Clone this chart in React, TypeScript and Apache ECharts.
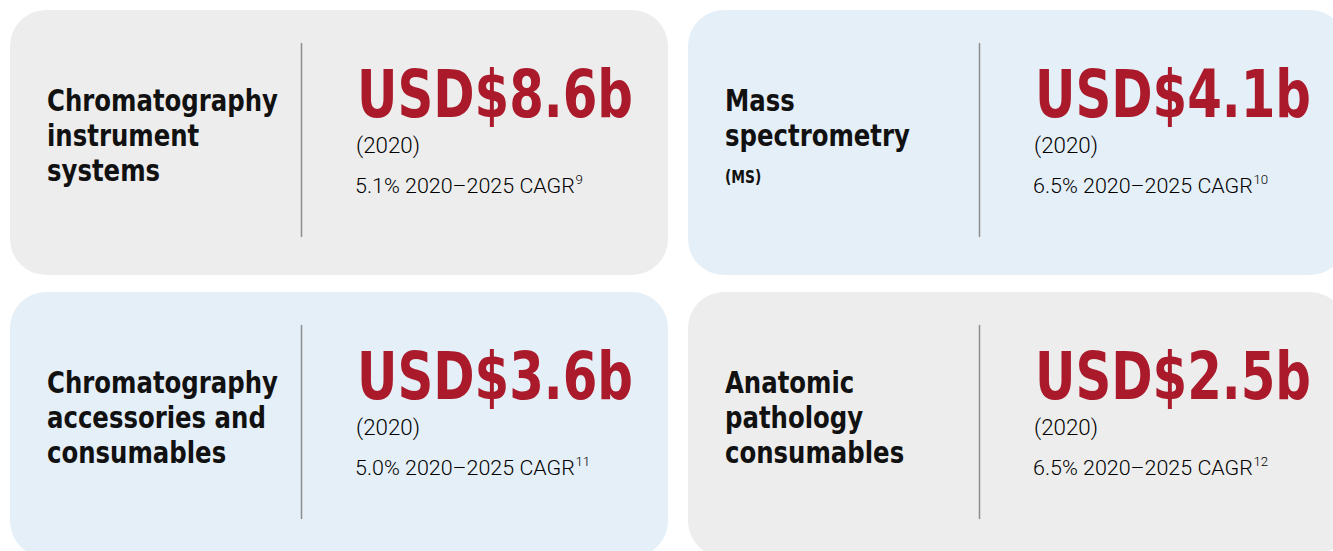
import { useEffect, useRef } from "react";
import * as echarts from "echarts";

// ---- data ----
const titleLines: string[][] = [
  ["Chromatography", "instrument", "systems"],
  ["Mass", "spectrometry"],
  ["Chromatography", "accessories and", "consumables"],
  ["Anatomic", "pathology", "consumables"],
];
const subtitles: string[] = ["", "(MS)", "", ""];
const marketValues: number[] = [8.6, 4.1, 3.6, 2.5];
const currencyPrefix = "USD$";
const unitSuffix = "b";
const baseYear = 2020;
const endYear = 2025;
const cagrValues: number[] = [5.1, 6.5, 5.0, 6.5];
const footnotes: number[] = [9, 10, 11, 12];
const cardColors: string[] = ["#EDEDED", "#E5EFF8", "#E5EFF8", "#EDEDED"];

// ---- layout / styles ----
const W = 1333;
const H = 551;
const colX = [10, 688];
const rowY = [10, 292];
const cardW = 658;
const cardH = 265;
const RED = "#AA1A2A";
const TEXT = "#111111";
const BODY = "#000000";
const titleFamily = '"DejaVu Sans Condensed", "DejaVu Sans"';
const bodyFamily = 'Roboto, "Liberation Sans", Arial, sans-serif';

export default function App() {
  const ref = useRef<HTMLDivElement>(null);

  useEffect(() => {
    if (!ref.current) return;
    const chart = echarts.init(ref.current, null, { renderer: "svg" });
    const ctx = document.createElement("canvas").getContext("2d")!;
    const measure = (text: string, font: string) => {
      ctx.font = font;
      return ctx.measureText(text).width;
    };

    const titleSize = 30;
    const titleFont = `bold ${titleSize}px ${titleFamily}`;
    const titleScale = 231 / measure("Chromatography", titleFont);
    const bigSize = 65;
    const bigFont = `bold ${bigSize}px ${titleFamily}`;
    const bigScale = 276 / measure(`${currencyPrefix}8.6${unitSuffix}`, bigFont);
    const yearSize = 22;
    const yearFont = `300 ${yearSize}px ${bodyFamily}`;
    const yearScale = 64 / measure(`(${baseYear})`, yearFont);
    const cagrSize = 21;
    const cagrFont = `300 ${cagrSize}px ${bodyFamily}`;
    const cagrScale = 220 / measure(`5.1% ${baseYear}–${endYear} CAGR`, cagrFont);

    const elements: any[] = [];
    marketValues.forEach((val, i) => {
      const cx = colX[i % 2];
      const cy = rowY[Math.floor(i / 2)];
      elements.push({
        type: "rect",
        shape: { x: cx, y: cy, width: cardW, height: cardH, r: 36 },
        style: { fill: cardColors[i] },
        silent: true,
      });
      elements.push({
        type: "line",
        shape: { x1: cx + 291.5, y1: cy + 33, x2: cx + 291.5, y2: cy + 227 },
        style: { stroke: "#8C8C8C", lineWidth: 1.5 },
        silent: true,
      });
      titleLines[i].forEach((line, li) => {
        elements.push({
          type: "text",
          x: cx + 37,
          y: cy + 91 + li * 35,
          scaleX: titleScale,
          style: {
            text: line,
            fontSize: titleSize,
            fontFamily: titleFamily,
            fontWeight: "bold",
            fill: TEXT,
            verticalAlign: "middle",
            align: "left",
          },
        });
      });
      if (subtitles[i]) {
        elements.push({
          type: "text",
          x: cx + 37,
          y: cy + 167,
          scaleX: titleScale,
          style: {
            text: subtitles[i],
            fontSize: 17,
            fontFamily: titleFamily,
            fontWeight: "bold",
            fill: TEXT,
            verticalAlign: "middle",
            align: "left",
          },
        });
      }
      elements.push({
        type: "text",
        x: cx + 347,
        y: cy + 84,
        scaleX: bigScale,
        style: {
          text: `${currencyPrefix}${val.toFixed(1)}${unitSuffix}`,
          fontSize: bigSize,
          fontFamily: titleFamily,
          fontWeight: "bold",
          fill: RED,
          verticalAlign: "middle",
          align: "left",
        },
      });
      elements.push({
        type: "text",
        x: cx + 346,
        y: cy + 135,
        scaleX: yearScale,
        style: {
          text: `(${baseYear})`,
          fontSize: yearSize,
          fontFamily: bodyFamily,
          fontWeight: 300,
          fill: BODY,
          verticalAlign: "middle",
          align: "left",
        },
      });
      const cagrText = `${cagrValues[i].toFixed(1)}% ${baseYear}–${endYear} CAGR`;
      const cw = measure(cagrText, cagrFont) * cagrScale;
      elements.push({
        type: "text",
        x: cx + 345,
        y: cy + 176,
        scaleX: cagrScale,
        style: {
          text: cagrText,
          fontSize: cagrSize,
          fontFamily: bodyFamily,
          fontWeight: 300,
          fill: BODY,
          verticalAlign: "middle",
          align: "left",
        },
      });
      elements.push({
        type: "text",
        x: cx + 345 + cw + 0.5,
        y: cy + 170,
        scaleX: cagrScale,
        style: {
          text: String(footnotes[i]),
          fontSize: 13,
          fontFamily: bodyFamily,
          fontWeight: 300,
          fill: BODY,
          verticalAlign: "middle",
          align: "left",
        },
      });
    });

    chart.setOption({
      animation: false,
      backgroundColor: "#FFFFFF",
      graphic: { elements },
    });
    return () => chart.dispose();
  }, []);

  return (
    <div
      ref={ref}
      style={{ position: "fixed", left: 0, top: 0, width: W, height: H, background: "#FFFFFF" }}
    />
  );
}
